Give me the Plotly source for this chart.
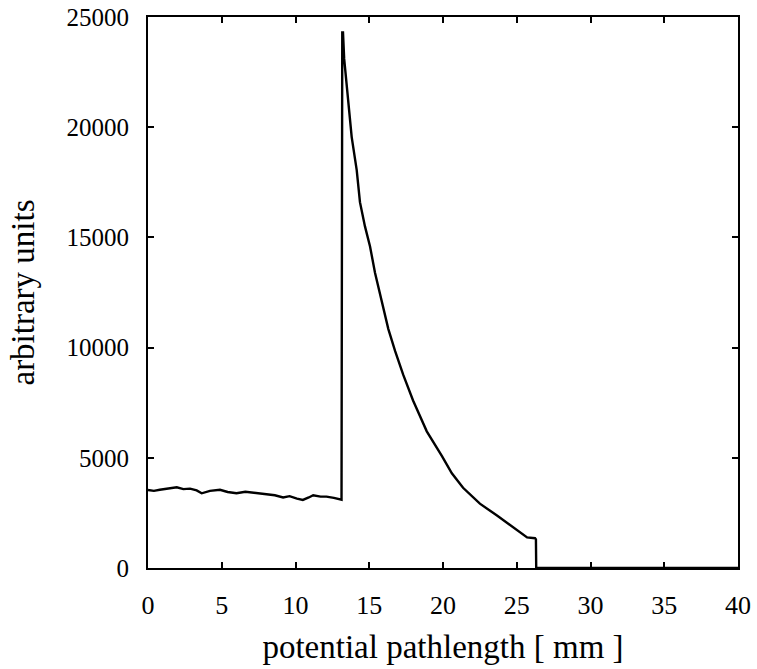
import plotly.graph_objects as go

pathlength_mm = [0.0, 0.4, 0.8, 1.3, 1.95, 2.4, 2.85, 3.3, 3.64, 4.2, 4.88, 5.4, 6.0, 6.6, 7.13, 7.6, 8.05, 8.6, 9.16, 9.6, 10.1, 10.5, 10.9, 11.2, 11.7, 12.1, 12.6, 12.97, 13.12,
                 13.17, 13.22, 13.3, 13.45, 13.58, 13.81, 14.15, 14.37, 14.71, 15.05, 15.39, 15.84, 16.29, 16.75, 17.3, 17.97, 18.9, 19.93, 20.6, 21.36, 22.5, 23.66, 24.75, 25.7, 26.24, 26.3,
                 26.32, 40.0]
intensity = [3540, 3500, 3550, 3600, 3660, 3580, 3600, 3520, 3390, 3500, 3550, 3450, 3390, 3460, 3420, 3380, 3330, 3300, 3200, 3260, 3150, 3090, 3200, 3300, 3240, 3240, 3180, 3120, 3100,
             24300, 24300, 23100, 22000, 21000, 19550, 18050, 16600, 15500, 14600, 13400, 12050, 10850, 9850, 8770, 7600, 6200, 5080, 4300, 3640, 2920, 2380, 1840, 1390, 1350, 1300,
             0, 0]

x_ticks = [0, 5, 10, 15, 20, 25, 30, 35, 40]
y_ticks = [0, 5000, 10000, 15000, 20000, 25000]

fig = go.Figure()
fig.add_trace(go.Scatter(x=pathlength_mm, y=intensity, mode="lines",
                         line=dict(color="black", width=2.4), showlegend=False))

font = dict(family="Liberation Serif, Times New Roman, serif", color="black")

fig.update_layout(
    width=757, height=669,
    margin=dict(l=148, r=19, t=17, b=101),
    paper_bgcolor="white", plot_bgcolor="white",
    font=dict(size=24, **font),
)
fig.update_xaxes(
    range=[0, 40], tickvals=x_ticks, ticktext=[str(v) for v in x_ticks],
    showgrid=False, zeroline=False, showline=True, linecolor="black", linewidth=2,
    mirror="ticks", ticks="inside", ticklen=6, tickwidth=2, tickcolor="black",
    tickfont=dict(size=26, **font), ticklabelstandoff=13, automargin=False,
    ticklabeloverflow="allow",
    title=dict(text="potential pathlength [ mm ]", font=dict(size=33, **font), standoff=16),
)
fig.update_yaxes(
    range=[0, 25000], tickvals=y_ticks, ticktext=[str(v) for v in y_ticks],
    showgrid=False, zeroline=False, showline=True, linecolor="black", linewidth=2,
    mirror="ticks", ticks="inside", ticklen=6, tickwidth=2, tickcolor="black",
    tickfont=dict(size=25, **font), ticklabelstandoff=12, automargin=False,
    ticklabeloverflow="allow",
    title=dict(text="arbitrary units", font=dict(size=33, **font), standoff=22),
)

fig.write_html("out.html")
